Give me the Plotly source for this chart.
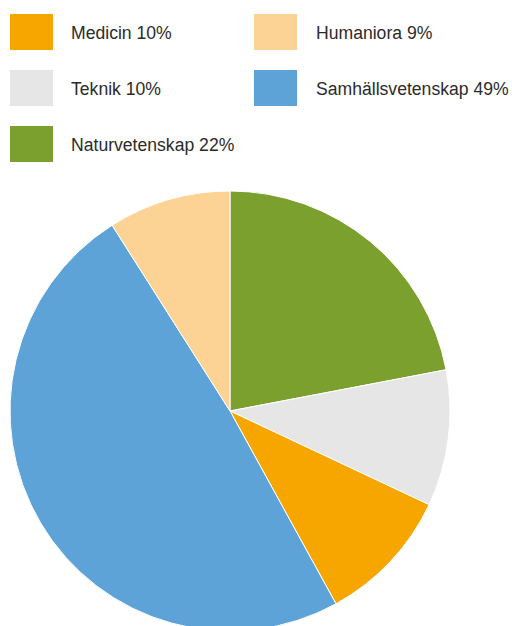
import plotly.graph_objects as go

# Data
slice_labels = ["Naturvetenskap", "Teknik", "Medicin", "Samhällsvetenskap", "Humaniora"]
slice_values = [22, 10, 10, 49, 9]
slice_colors = ["#7BA02E", "#E6E6E6", "#F7A600", "#5EA3D7", "#FDD395"]

legend_order = ["Medicin", "Humaniora", "Teknik", "Samhällsvetenskap", "Naturvetenskap"]

W, H = 512, 640


def px(x):
    return x / W


def py(y):
    return 1 - y / H


fig = go.Figure()
fig.add_trace(go.Pie(
    labels=slice_labels,
    values=slice_values,
    marker=dict(colors=slice_colors, line=dict(color="white", width=1)),
    sort=False,
    direction="clockwise",
    rotation=0,
    textinfo="none",
    hoverinfo="label+percent",
    showlegend=False,
    domain=dict(x=[px(10), px(450)], y=[py(631), py(191)]),
))

shapes = []
annotations = []
col_x = [10, 254]
text_x = [69, 314]
row_y = [14, 70, 126]
sq_w, sq_h = 43, 36
for i, name in enumerate(legend_order):
    idx = slice_labels.index(name)
    col = i % 2
    row = i // 2
    x0 = col_x[col]
    y0 = row_y[row]
    shapes.append(dict(type="rect", xref="paper", yref="paper",
                       x0=px(x0), x1=px(x0 + sq_w), y0=py(y0 + sq_h), y1=py(y0),
                       fillcolor=slice_colors[idx], line=dict(width=0)))
    annotations.append(dict(xref="paper", yref="paper",
                            x=px(text_x[col]), y=py(y0 + sq_h / 2 + 1),
                            xanchor="left", yanchor="middle", showarrow=False,
                            text=f"{name} {slice_values[idx]}%",
                            font=dict(size=17.6, color="#2b2b2b",
                                      family="Helvetica Neue, Liberation Sans, Arial, sans-serif")))

fig.update_layout(
    width=W, height=H,
    margin=dict(l=0, r=0, t=0, b=0),
    paper_bgcolor="white",
    plot_bgcolor="white",
    shapes=shapes,
    annotations=annotations,
)

fig.write_html(
    "out.html",
    config={"displayModeBar": False},
    post_script="document.body.style.margin='0';document.body.style.overflow='hidden';document.documentElement.style.overflow='hidden';",
)
